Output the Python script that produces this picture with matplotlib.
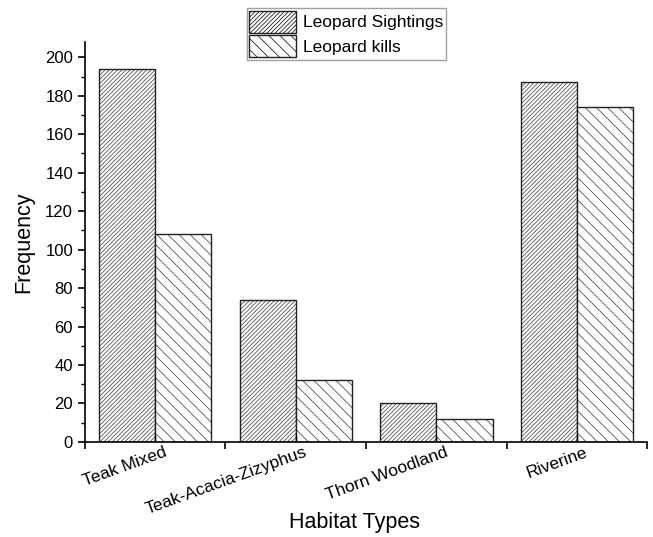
import matplotlib
matplotlib.use("Agg")
import matplotlib.pyplot as plt
import matplotlib.transforms as mtransforms
import numpy as np
from matplotlib.patches import Patch
from matplotlib.ticker import MultipleLocator, FixedLocator

plt.rcParams['font.family'] = ['Liberation Sans', 'DejaVu Sans']
plt.rcParams['hatch.linewidth'] = 0.6

categories = ["Teak Mixed", "Teak-Acacia-Zizyphus", "Thorn Woodland", "Riverine"]
sightings = [194, 74, 20, 187]
kills = [108, 32, 12, 174]
series_names = ["Leopard Sightings", "Leopard kills"]

fig = plt.figure(figsize=(6.53, 5.37), dpi=100)
ax = fig.add_axes([0.130, 0.177, 0.861, 0.745])

x = np.arange(len(categories))
w = 0.4
hcol = '#555555'
hatches = ['////////', '\\\\\\']
for off, vals, h in [(-w/2, sightings, hatches[0]), (w/2, kills, hatches[1])]:
    ax.bar(x + off, vals, w, color='white', edgecolor=hcol, hatch=h, linewidth=0)
    ax.bar(x + off, vals, w, fill=False, edgecolor='#222222', linewidth=1.0)

ax.set_xlim(-0.5, 3.5)
ax.set_ylim(0, 208)
ax.spines['top'].set_visible(False)
ax.spines['right'].set_visible(False)
ax.spines['left'].set_linewidth(1.2)
ax.spines['bottom'].set_linewidth(1.2)

ax.yaxis.set_major_locator(MultipleLocator(20))
ax.yaxis.set_minor_locator(MultipleLocator(10))
ax.tick_params(axis='y', which='major', direction='out', length=5, width=1.2, labelsize=12)
ax.tick_params(axis='y', which='minor', direction='out', length=3, width=1.0)

ax.xaxis.set_major_locator(FixedLocator(x))
ax.xaxis.set_minor_locator(FixedLocator(np.arange(-0.5, 4.0, 1.0)))
ax.tick_params(axis='x', which='major', direction='in', length=5, width=1.0, labelsize=12.5, pad=2)
ax.tick_params(axis='x', which='minor', direction='out', length=5, width=1.2)
ax.set_xticklabels(categories, rotation=20, ha='right', rotation_mode='anchor')
offset = mtransforms.ScaledTranslation(8/100, 0, fig.dpi_scale_trans)
for lbl in ax.get_xticklabels():
    lbl.set_transform(lbl.get_transform() + offset)

ax.set_ylabel("Frequency", fontsize=15.5)
ax.yaxis.set_label_coords(-0.09, 0.5)
ax.set_xlabel("Habitat Types", fontsize=15.5)
ax.xaxis.set_label_coords(0.48, -0.175)

handles = [Patch(facecolor='white', edgecolor='#222222', hatch=hatches[0], linewidth=1.0),
           Patch(facecolor='white', edgecolor='#222222', hatch=hatches[1], linewidth=1.0)]
leg = fig.legend(handles, series_names, loc='upper left', bbox_to_anchor=(0.378, 0.985),
                 fontsize=12.5, frameon=True, fancybox=False, edgecolor='#888888',
                 handlelength=2.7, handleheight=1.6, handletextpad=0.4,
                 borderpad=0.15, labelspacing=0.1, borderaxespad=0)
leg.get_frame().set_linewidth(1.0)

fig.savefig("out.png", dpi=100)
